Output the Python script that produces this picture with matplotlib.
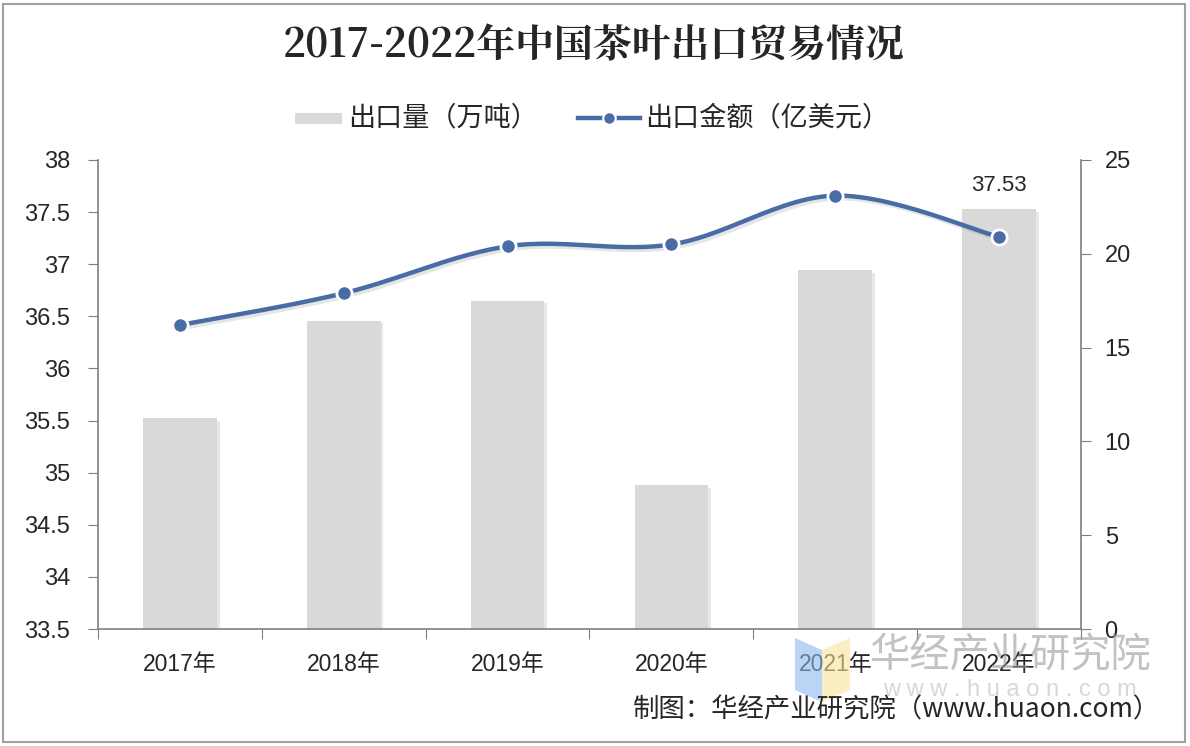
import matplotlib
matplotlib.use("Agg")
import matplotlib.pyplot as plt
import matplotlib.patheffects as pe
from matplotlib.patches import Rectangle, Polygon
import numpy as np

plt.rcParams['font.family'] = ['Liberation Sans', 'Noto Sans CJK SC', 'DejaVu Sans']

years = ["2017年", "2018年", "2019年", "2020年", "2021年", "2022年"]
volume = [35.52, 36.46, 36.65, 34.88, 36.94, 37.53]      # 出口量（万吨）
value = [16.2, 17.9, 20.4, 20.5, 23.1, 20.9]             # 出口金额（亿美元）
left_ticks = [33.5, 34, 34.5, 35, 35.5, 36, 36.5, 37, 37.5, 38]
left_labels = ["33.5", "34", "34.5", "35", "35.5", "36", "36.5", "37", "37.5", "38"]
right_ticks = [0, 5, 10, 15, 20, 25]

W, H = 1190, 746
fig = plt.figure(figsize=(W / 100, H / 100), dpi=100)
fig.patch.set_facecolor('white')

L, R, T, B = 98, 1081, 160, 629
ax = fig.add_axes([L / W, 1 - B / H, (R - L) / W, (B - T) / H])
ax2 = ax.twinx()

x = np.arange(len(years))
bar_color = '#d9d9d9'
line_color = '#4a6ca6'
axis_color = '#7f7f7f'
text_color = '#262626'

bars = ax.bar(x, [v - 33.5 for v in volume], bottom=33.5, width=0.45, color=bar_color,
              zorder=2, label='出口量（万吨）')
for b in bars:
    b.set_path_effects([pe.SimplePatchShadow(offset=(2, -2), shadow_rgbFace='#a0a0a0', alpha=0.25),
                        pe.Normal()])

ax.set_ylim(33.5, 38)
ax.set_xlim(-0.5, len(years) - 0.5)
ax.set_yticks(left_ticks)
ax.set_yticklabels(left_labels)
ax.text(x[-1], volume[-1] + 0.12, f"{volume[-1]:.2f}", ha='center', va='bottom',
        fontsize=16, color=text_color)

# smoothed line (Catmull-Rom style bezier through the data points)
xs = x.astype(float)
ys = np.array(value, dtype=float)
px = np.concatenate([[xs[0]], xs, [xs[-1]]])
py = np.concatenate([[ys[0]], ys, [ys[-1]]])
cx, cy = [], []
t = np.linspace(0, 1, 30)
for i in range(1, len(px) - 2):
    p0 = np.array([px[i - 1], py[i - 1]]); p1 = np.array([px[i], py[i]])
    p2 = np.array([px[i + 1], py[i + 1]]); p3 = np.array([px[i + 2], py[i + 2]])
    c1 = p1 + (p2 - p0) / 6.0
    c2 = p2 - (p3 - p1) / 6.0
    seg = ((1 - t) ** 3)[:, None] * p1 + (3 * (1 - t) ** 2 * t)[:, None] * c1 + \
          (3 * (1 - t) * t ** 2)[:, None] * c2 + (t ** 3)[:, None] * p2
    cx.extend(seg[:, 0]); cy.extend(seg[:, 1])
ax2.plot(cx, cy, color=line_color, lw=3.2, zorder=3, solid_capstyle='round',
         path_effects=[pe.SimpleLineShadow(offset=(2, -2), shadow_color='#999999', alpha=0.25), pe.Normal()])
ax2.plot(xs, ys, linestyle='none', marker='o', markersize=11, markerfacecolor=line_color,
         markeredgecolor='white', markeredgewidth=2, zorder=4)
ax2.set_ylim(0, 25)
ax2.set_yticks(right_ticks)

# x ticks: marks at category boundaries, labels at centers
ax.set_xticks(np.arange(-0.5, len(years), 1.0))
ax.set_xticklabels([])
ax.set_xticks(x, minor=True)
ax.set_xticklabels(years, minor=True)
ax.tick_params(axis='x', which='major', length=7, color=axis_color, direction='out')
ax.tick_params(axis='x', which='minor', length=0, pad=17, labelsize=16.5, labelcolor=text_color)
ax.tick_params(axis='y', length=7, color=axis_color, labelsize=17, labelcolor=text_color, pad=13)
ax2.tick_params(axis='y', length=7, color=axis_color, labelsize=17, labelcolor=text_color, pad=10)

for a in (ax, ax2):
    a.spines['top'].set_visible(False)
    for s in ('left', 'right', 'bottom'):
        a.spines[s].set_color(axis_color)
        a.spines[s].set_linewidth(1.2)
ax.spines['right'].set_visible(False)
ax2.spines['left'].set_visible(False)
ax2.spines['bottom'].set_visible(False)
ax.set_zorder(ax2.get_zorder() - 1)
ax.patch.set_visible(False)
ax2.patch.set_visible(False)

# title
fig.text(594 / W, 1 - 46 / H, "2017-2022年中国茶叶出口贸易情况", ha='center', va='center',
         fontsize=28, fontweight='bold', color=text_color, family=['Noto Serif CJK SC', 'Noto Sans CJK SC'])

# legend (manual)
fig.patches.append(Rectangle((295 / W, 1 - 124 / H), 47 / W, 11 / H, transform=fig.transFigure,
                             facecolor=bar_color, edgecolor='none'))
fig.text(348 / W, 1 - 118 / H, "出口量（万吨）", ha='left', va='center', fontsize=19.5,
         color=text_color, family=['Noto Sans CJK SC'])
fig.lines.append(plt.Line2D([578 / W, 640 / W], [1 - 118 / H, 1 - 118 / H], transform=fig.transFigure,
                            color=line_color, lw=3.2))
fig.lines.append(plt.Line2D([609 / W], [1 - 118 / H], transform=fig.transFigure, marker='o',
                            markersize=9, markerfacecolor=line_color, markeredgecolor='white',
                            markeredgewidth=1.5, linestyle='none'))
fig.text(645 / W, 1 - 118 / H, "出口金额（亿美元）", ha='left', va='center', fontsize=19.5,
         color=text_color, family=['Noto Sans CJK SC'])

# watermark logo
fig.patches.append(Polygon([[795 / W, 1 - 638 / H], [822 / W, 1 - 650 / H], [822 / W, 1 - 702 / H],
                            [795 / W, 1 - 690 / H]], closed=True, transform=fig.transFigure,
                           facecolor='#8db8f0', alpha=0.6, edgecolor='none'))
fig.patches.append(Polygon([[822 / W, 1 - 650 / H], [850 / W, 1 - 638 / H], [850 / W, 1 - 690 / H],
                            [822 / W, 1 - 702 / H]], closed=True, transform=fig.transFigure,
                           facecolor='#f7e49a', alpha=0.6, edgecolor='none'))
fig.text(1010 / W, 1 - 656 / H, "华经产业研究院", ha='center', va='center', fontsize=29,
         color='#9a9a9a', alpha=0.6, family=['Noto Sans CJK SC'])
fig.text(1010 / W, 1 - 690 / H, "w w w . h u a o n . c o m", ha='center', va='center', fontsize=17,
         color='#b0b0b0', alpha=0.5)

# footer
fig.text(1160 / W, 1 - 710 / H, "制图：华经产业研究院（www.huaon.com）", ha='right', va='center',
         fontsize=19, color=text_color, family=['Noto Sans CJK SC'])

# outer frame
fig.patches.append(Rectangle((3 / W, 4 / H), (W - 8) / W, (H - 8) / H, transform=fig.transFigure,
                             facecolor='none', edgecolor='#a0a0a0', lw=1.5))

fig.savefig("out.png", dpi=100)
